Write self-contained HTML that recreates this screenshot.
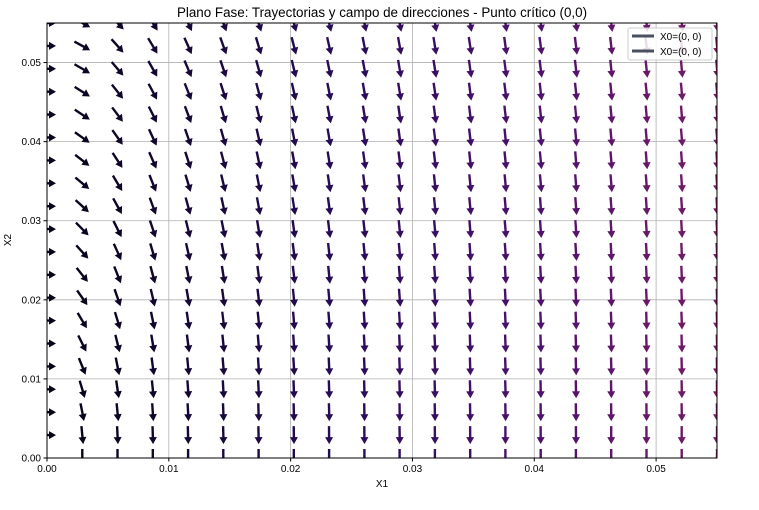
<!DOCTYPE html>
<html><head><meta charset="utf-8"><style>
body{margin:0;background:#fff;font-family:"Liberation Sans",sans-serif;}
svg text{font-family:"Liberation Sans",sans-serif;}
</style></head><body>
<svg id="chart" width="759" height="505" xmlns="http://www.w3.org/2000/svg">
<defs><clipPath id="pc"><rect x="47" y="23" width="670" height="435"/></clipPath></defs>
<rect width="759" height="505" fill="#fff"/>
<text x="382" y="17" font-size="13.4" text-anchor="middle">Plano Fase: Trayectorias y campo de direcciones - Punto crítico (0,0)</text>
<g id="grid"></g>
<g id="arrows" clip-path="url(#pc)"></g>
<rect x="47" y="23" width="670" height="435" fill="none" stroke="#000" stroke-width="1"/>
<g id="ticks"></g>
<text x="382" y="487" font-size="10" text-anchor="middle">X1</text>
<text x="11" y="240" font-size="10" text-anchor="middle" transform="rotate(-90 11 240)">X2</text>
<g>
<rect x="628" y="28" width="84" height="32" rx="2" fill="#fff" fill-opacity="0.85" stroke="#ccc"/>
<line x1="632" y1="36" x2="654" y2="36" stroke="#4a5060" stroke-width="3"/>
<text x="660" y="40" font-size="10">X0=(0, 0)</text>
<line x1="632" y1="51" x2="654" y2="51" stroke="#4a5060" stroke-width="3"/>
<text x="660" y="55" font-size="10">X0=(0, 0)</text>
</g>
</svg>
<script>
const xTicks=[0,0.01,0.02,0.03,0.04,0.05];
const yTicks=[0,0.01,0.02,0.03,0.04,0.05];
const xTickLabels=["0.00","0.01","0.02","0.03","0.04","0.05"];
const yTickLabels=["0.00","0.01","0.02","0.03","0.04","0.05"];
const gridCount=20;
const gridMax=0.055;
const fieldK=10;
const NS="http://www.w3.org/2000/svg";
const X0=47,X1=717,Y0=458,Y1=23;
const sx=v=>X0+(v/0.055)*(X1-X0);
const sy=v=>Y0-(v/0.055)*(Y0-Y1);
function mk(t,a,p){const e=document.createElementNS(NS,t);for(const k in a)e.setAttribute(k,a[k]);p.appendChild(e);return e;}
const grid=document.getElementById('grid'),ticks=document.getElementById('ticks'),arrows=document.getElementById('arrows');
xTicks.forEach((v,i)=>{
 const x=sx(v);
 const g=mk('line',{x1:x,y1:Y1,x2:x,y2:Y0,stroke:'#b0b0b0','stroke-width':0.8},grid);
 
 
 mk('line',{x1:x,y1:Y0,x2:x,y2:Y0+3.5,stroke:'#000'},ticks);
 const t=mk('text',{x:x,y:Y0+14,'font-size':10,'text-anchor':'middle'},ticks);t.textContent=xTickLabels[i];
 
 
});
yTicks.forEach((v,i)=>{
 const y=sy(v);
 const g=mk('line',{x1:X0,y1:y,x2:X1,y2:y,stroke:'#b0b0b0','stroke-width':0.8},grid);
 
 
 mk('line',{x1:X0-3.5,y1:y,x2:X0,y2:y,stroke:'#000'},ticks);
 const t=mk('text',{x:X0-6,y:y+3.5,'font-size':10,'text-anchor':'end'},ticks);t.textContent=yTickLabels[i];
 
 
});
const gx=[],gy=[];
for(let i=0;i<gridCount;i++){gx.push(gridMax*i/(gridCount-1));gy.push(gridMax*i/(gridCount-1));}
let mmax=0;
gx.forEach(x=>gy.forEach(y=>{mmax=Math.max(mmax,Math.hypot(y,fieldK*x));}));
const stops=[[0,[5,3,20]],[0.45,[40,12,90]],[0.75,[80,18,110]],[1,[120,28,100]]];
function col(t){for(let i=1;i<stops.length;i++){if(t<=stops[i][0]){const a=stops[i-1],b=stops[i],f=(t-a[0])/(b[0]-a[0]);return 'rgb('+a[1].map((c,j)=>Math.round(c+(b[1][j]-c)*f)).join(',')+')';}}return 'rgb(120,28,100)';}
const L=18,w=1.2,hl=7,hw=4;
gx.forEach(x=>gy.forEach(y=>{
 const u=y,v=-fieldK*x,m=Math.hypot(u,v);
 if(m===0)return;
 const dx=u/m,dy=-v/m;
 const px=-dy,py=dx;
 const cx=sx(x),cy=sy(y);
 const tx=cx-dx*L/2,ty=cy-dy*L/2,hx=cx+dx*L/2,hy=cy+dy*L/2;
 const bx=hx-dx*hl,by=hy-dy*hl;
 const pts=[[tx+px*w,ty+py*w],[bx+px*w,by+py*w],[bx+px*hw,by+py*hw],[hx,hy],[bx-px*hw,by-py*hw],[bx-px*w,by-py*w],[tx-px*w,ty-py*w]];
 const p=mk('polygon',{points:pts.map(q=>q[0].toFixed(1)+','+q[1].toFixed(1)).join(' '),fill:col(m/mmax)},arrows);
 
 
}));
</script>
</body></html>
